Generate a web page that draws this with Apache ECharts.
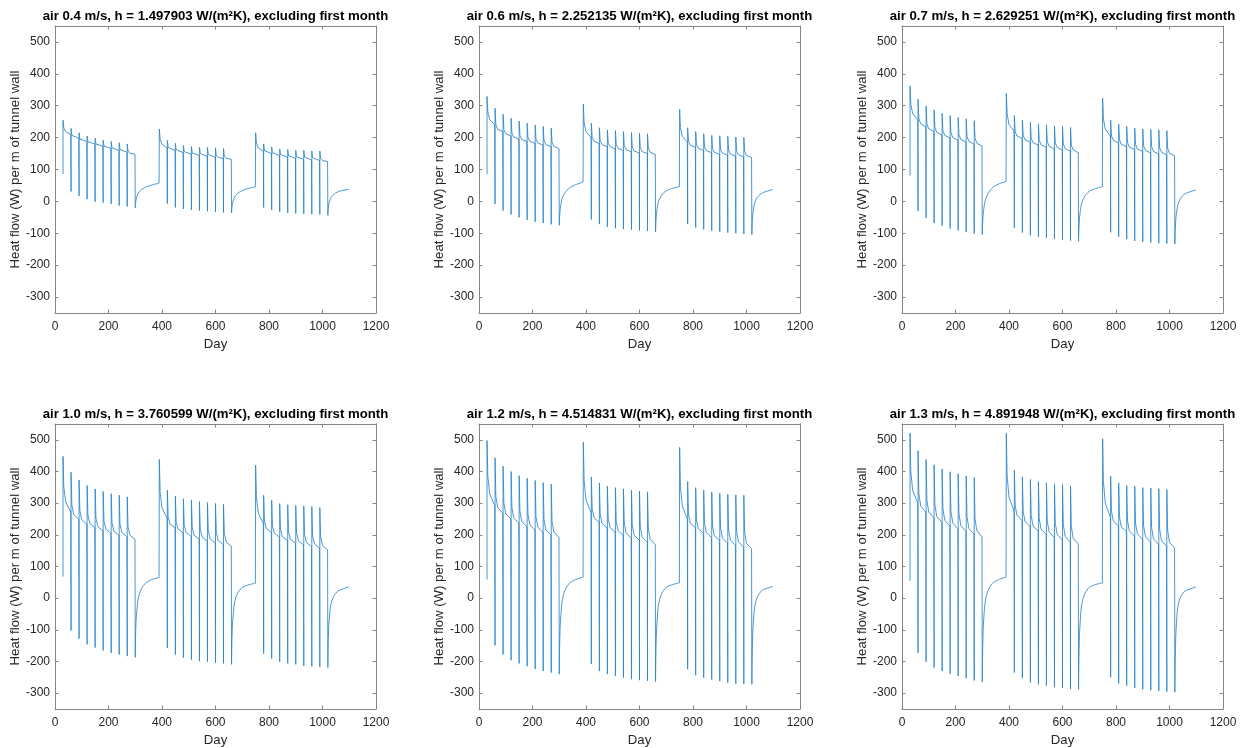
<!DOCTYPE html>
<html>
<head>
<meta charset="utf-8">
<script src="https://cdn.jsdelivr.net/npm/echarts@6/dist/echarts.min.js"></script>
<style>
html,body{margin:0;padding:0;background:#fff;}
#chart{width:1252px;height:748px;}
</style>
</head>
<body>
<div id="chart"></div>
<script>
// ---------- tick labels / structure ----------
const xTicks = [0, 200, 400, 600, 800, 1000, 1200];
const yTicks = [-300, -200, -100, 0, 100, 200, 300, 400, 500];
const yearStarts = [30, 390, 750];        // day of first monthly spike of each year
const monthDays = 30;                      // spacing of spikes
const segOffsets = [0, 3, 10, 29];         // peak, knee3, knee10, end (days after spike)
const recOffsets = [[2, 6, 15, 35, 60, 89], [2, 6, 15, 35, 60, 89], [2, 6, 15, 35, 60, 78]];

const titles = [
  'air 0.4 m/s, h = 1.497903 W/(m²K), excluding first month',
  'air 0.6 m/s, h = 2.252135 W/(m²K), excluding first month',
  'air 0.7 m/s, h = 2.629251 W/(m²K), excluding first month',
  'air 1.0 m/s, h = 3.760599 W/(m²K), excluding first month',
  'air 1.2 m/s, h = 4.514831 W/(m²K), excluding first month',
  'air 1.3 m/s, h = 4.891948 W/(m²K), excluding first month'
];

// ---------- values (W per m) ----------
// 0.4 m/s
const start_04 = 86;
const peaks_04 = [[255,229,215,205,198,192,188,184,180],[227,191,182,175,172,170,169,168,166],[215,180,171,164,163,160,160,158,158]];
const knee3_04 = [[230,207,196,187,180,174,168,163,158],[195,169,162,156,152,150,147,145,142],[183,159,152,147,143,140,139,137,135]];
const knee10_04 = [[218,201,191,182,175,169,163,157,151],[179,163,156,151,147,144,141,138,135],[167,153,147,142,138,135,133,131,128]];
const ends_04 = [[210,198,188,180,173,166,160,154,148],[168,160,153,148,144,141,138,135,132],[157,150,144,139,135,132,130,128,125]];
const troughs_04 = [[31,17,7,-1,-4,-8,-13,-16,-20],[-7,-19,-24,-27,-29,-31,-33,-35,-36],[-19,-27,-33,-36,-38,-39,-40,-41,-44]];
const recovery_04 = [[0,15,30,43,51,57],[-15,2,18,32,40,45],[-18,0,16,29,35,38]];

// 0.6 m/s
const start_06 = 85;
const peaks_06 = [[329,292,273,261,252,245,239,235,230],[305,245,231,224,222,219,216,214,212],[289,231,219,212,207,206,204,202,201]];
const knee3_06 = [[280,241,225,215,207,201,196,191,185],[247,201,190,183,179,175,171,169,167],[232,188,178,171,166,163,161,159,157]];
const knee10_06 = [[256,226,212,202,194,188,183,178,172],[219,188,178,171,166,162,158,156,154],[204,176,166,159,154,151,148,146,144]];
const ends_06 = [[240,219,205,195,188,182,177,172,166],[200,182,172,165,160,156,152,150,147],[185,170,160,153,148,145,142,140,138]];
const troughs_06 = [[-8,-29,-41,-50,-58,-64,-68,-72,-75],[-57,-71,-80,-84,-87,-89,-91,-93,-96],[-71,-82,-88,-92,-95,-98,-100,-102,-104]];
const recovery_06 = [[-40,-10,18,40,52,60],[-55,-22,8,30,40,46],[-60,-25,5,24,33,37]];

// 0.7 m/s
const start_07 = 81;
const peaks_07 = [[362,320,299,287,276,269,263,259,253],[339,269,255,248,243,240,237,235,232],[324,255,242,235,230,227,225,224,222]];
const knee3_07 = [[304,260,243,232,222,215,209,204,198],[274,219,207,198,192,188,184,180,177],[259,205,193,185,179,175,172,169,167]];
const knee10_07 = [[275,243,227,216,207,200,194,188,182],[241,205,193,184,177,173,169,165,161],[226,191,179,170,164,160,157,154,151]];
const ends_07 = [[256,234,219,208,199,192,186,180,174],[220,198,186,177,170,165,161,157,153],[205,184,172,163,157,152,149,146,143]];
const troughs_07 = [[-30,-52,-68,-76,-85,-91,-96,-101,-104],[-83,-98,-106,-111,-114,-118,-120,-123,-125],[-97,-111,-118,-124,-127,-129,-131,-132,-134]];
const recovery_07 = [[-60,-22,12,40,54,62],[-75,-35,2,28,39,46],[-80,-38,-2,22,31,36]];

// 1.0 m/s
const start_10 = 68;
const peaks_10 = [[448,398,373,356,345,337,330,325,320],[438,341,322,314,309,305,302,299,296],[420,325,309,299,295,293,291,289,286]];
const knee3_10 = [[351,294,276,263,253,245,238,233,226],[336,258,241,231,224,218,212,208,204],[318,243,228,217,210,206,201,197,193]];
const knee10_10 = [[304,264,248,236,226,218,212,207,199],[285,234,218,207,199,193,187,182,177],[268,220,205,194,186,181,176,171,166]];
const ends_10 = [[272,249,234,223,213,205,199,194,186],[252,222,206,195,187,180,174,169,164],[235,208,193,182,174,168,163,158,153]];
const troughs_10 = [[-102,-128,-146,-156,-165,-173,-178,-183,-187],[-157,-178,-188,-194,-199,-201,-204,-206,-209],[-175,-191,-201,-206,-209,-214,-215,-217,-219]];
const recovery_10 = [[-95,-40,12,44,58,65],[-115,-55,0,30,41,47],[-120,-60,-8,20,30,36]];

// 1.2 m/s
const start_12 = 59;
const peaks_12 = [[498,443,417,400,387,379,372,365,360],[493,383,364,354,349,345,341,338,336],[476,368,349,341,335,331,328,326,325]];
const knee3_12 = [[385,321,300,286,274,265,257,248,242],[370,283,265,252,243,237,230,225,219],[352,266,248,237,228,221,215,211,207]];
const knee10_12 = [[329,286,267,253,242,232,224,216,209],[310,254,236,223,213,206,199,192,186],[291,237,219,207,197,190,183,178,173]];
const ends_12 = [[292,268,250,237,226,216,208,200,192],[270,240,222,208,198,190,183,176,169],[250,222,205,192,182,174,167,161,156]];
const troughs_12 = [[-149,-178,-196,-206,-215,-224,-230,-235,-240],[-208,-230,-240,-245,-251,-256,-259,-261,-264],[-224,-243,-251,-257,-262,-267,-270,-271,-272]];
const recovery_12 = [[-130,-55,8,44,58,66],[-150,-70,-5,30,42,48],[-155,-72,-10,22,32,37]];

// 1.3 m/s
const start_13 = 55;
const peaks_13 = [[521,466,438,421,408,399,393,386,381],[521,404,383,375,368,364,361,359,355],[503,385,364,356,354,349,348,346,343]];
const knee3_13 = [[399,330,309,294,282,273,266,257,250],[386,293,273,261,251,244,237,232,226],[367,275,256,244,236,229,223,219,214]];
const knee10_13 = [[340,291,272,258,246,237,229,220,213],[319,261,242,228,218,209,202,195,189],[300,244,225,212,203,194,188,182,177]];
const ends_13 = [[300,272,254,240,228,219,211,202,194],[275,245,226,212,201,192,184,177,171],[255,228,210,196,186,177,170,164,158]];
const troughs_13 = [[-172,-201,-219,-230,-239,-246,-253,-260,-264],[-235,-253,-266,-272,-276,-281,-283,-287,-288],[-250,-269,-276,-283,-288,-291,-293,-295,-297]];
const recovery_13 = [[-145,-60,5,44,58,66],[-165,-78,-8,30,42,48],[-170,-80,-12,20,30,35]];

const runs = [
  [start_04, peaks_04, knee3_04, knee10_04, ends_04, troughs_04, recovery_04],
  [start_06, peaks_06, knee3_06, knee10_06, ends_06, troughs_06, recovery_06],
  [start_07, peaks_07, knee3_07, knee10_07, ends_07, troughs_07, recovery_07],
  [start_10, peaks_10, knee3_10, knee10_10, ends_10, troughs_10, recovery_10],
  [start_12, peaks_12, knee3_12, knee10_12, ends_12, troughs_12, recovery_12],
  [start_13, peaks_13, knee3_13, knee10_13, ends_13, troughs_13, recovery_13]
];

// assemble [day, value] pairs: per year one spiky piece and one (smoothed) recovery piece
function buildPieces(run) {
  const [start, peaks, k3, k10, ends, troughs, rec] = run;
  const spikes = [], recs = [];
  for (let y = 0; y < 3; y++) {
    const s0 = yearStarts[y];
    const pts = [];
    if (y === 0) pts.push([s0, start]);
    else pts.push([s0 - 1, rec[y - 1][rec[y - 1].length - 1]]);
    for (let j = 0; j < 9; j++) {
      const s = s0 + monthDays * j;
      if (j > 0) pts.push([s, troughs[y][j - 1]]);
      const vals = [peaks[y][j], k3[y][j], k10[y][j], ends[y][j]];
      for (let k = 0; k < 4; k++) pts.push([s + segOffsets[k], vals[k]]);
    }
    const sd = s0 + monthDays * 9;
    pts.push([sd, troughs[y][8]]);
    spikes.push(pts);
    const rp = [[sd, troughs[y][8]]];
    for (let k = 0; k < rec[y].length; k++) rp.push([sd + recOffsets[y][k], rec[y][k]]);
    recs.push(rp);
  }
  return {spikes, recs};
}

// ---------- layout ----------
const colLeft = [55, 479, 902];
const rowTop = [26, 424];
const gw = 321, gh = 287;
const axisColor = '#858585';
const textColor = '#262626';
const lineColor = '#2a84c8';
const fontFam = '"Liberation Sans", Arial, Helvetica, sans-serif';

const grid = [], xAxis = [], yAxis = [], series = [], title = [];
for (let i = 0; i < 6; i++) {
  const c = i % 3, r = Math.floor(i / 3);
  grid.push({left: colLeft[c], top: rowTop[r], width: gw, height: gh, show: false});
  title.push({
    text: titles[i], left: colLeft[c] + gw / 2, top: rowTop[r] - 16, textAlign: 'center', padding: 0,
    textStyle: {fontSize: 13.2, fontWeight: 'bold', color: '#000', fontFamily: fontFam}
  });
  const tickStyle = {show: true, inside: true, length: 3.5, lineStyle: {color: axisColor, width: 1}};
  xAxis.push({
    type: 'value', gridIndex: i, position: 'bottom', min: 0, max: 1200, interval: 200,
    axisLine: {show: true, onZero: false, lineStyle: {color: axisColor, width: 1}},
    axisTick: tickStyle, splitLine: {show: false},
    axisLabel: {show: true, margin: 8, color: textColor, fontSize: 12, fontFamily: fontFam,
      customValues: xTicks, formatter: v => String(v)},
    name: 'Day', nameLocation: 'middle', nameGap: 25,
    nameTextStyle: {fontSize: 13.2, color: textColor, fontFamily: fontFam}
  });
  xAxis.push({
    type: 'value', gridIndex: i, position: 'top', min: 0, max: 1200, interval: 200,
    axisLine: {show: true, onZero: false, lineStyle: {color: axisColor, width: 1}},
    axisTick: tickStyle, axisLabel: {show: false}, splitLine: {show: false}
  });
  yAxis.push({
    type: 'value', gridIndex: i, position: 'left', min: -350, max: 550,
    axisLine: {show: true, onZero: false, lineStyle: {color: axisColor, width: 1}},
    axisTick: Object.assign({}, tickStyle, {customValues: yTicks}), splitLine: {show: false},
    axisLabel: {show: true, margin: 5, color: textColor, fontSize: 12, fontFamily: fontFam,
      customValues: yTicks, formatter: v => String(v)},
    name: 'Heat flow (W) per m of tunnel wall', nameLocation: 'middle', nameGap: 32, nameRotate: 90,
    nameTextStyle: {fontSize: 13.2, color: textColor, fontFamily: fontFam}
  });
  yAxis.push({
    type: 'value', gridIndex: i, position: 'right', min: -350, max: 550,
    axisLine: {show: true, onZero: false, lineStyle: {color: axisColor, width: 1}},
    axisTick: Object.assign({}, tickStyle, {customValues: yTicks}), axisLabel: {show: false}, splitLine: {show: false}
  });
  const pieces = buildPieces(runs[i]);
  for (let y = 0; y < 3; y++) {
    series.push({
      type: 'line', xAxisIndex: 2 * i, yAxisIndex: 2 * i, data: pieces.spikes[y],
      showSymbol: false, symbol: 'none', smooth: false, animation: false,
      lineStyle: {color: lineColor, width: 0.85}, emphasis: {disabled: true}
    });
    series.push({
      type: 'line', xAxisIndex: 2 * i, yAxisIndex: 2 * i, data: pieces.recs[y],
      showSymbol: false, symbol: 'none', smooth: 0.4, animation: false,
      lineStyle: {color: lineColor, width: 0.85}, emphasis: {disabled: true}
    });
  }
}

const chart = echarts.init(document.getElementById('chart'), null, {renderer: 'canvas'});
chart.setOption({backgroundColor: '#ffffff', animation: false, title, grid, xAxis, yAxis, series});
</script>
</body>
</html>
